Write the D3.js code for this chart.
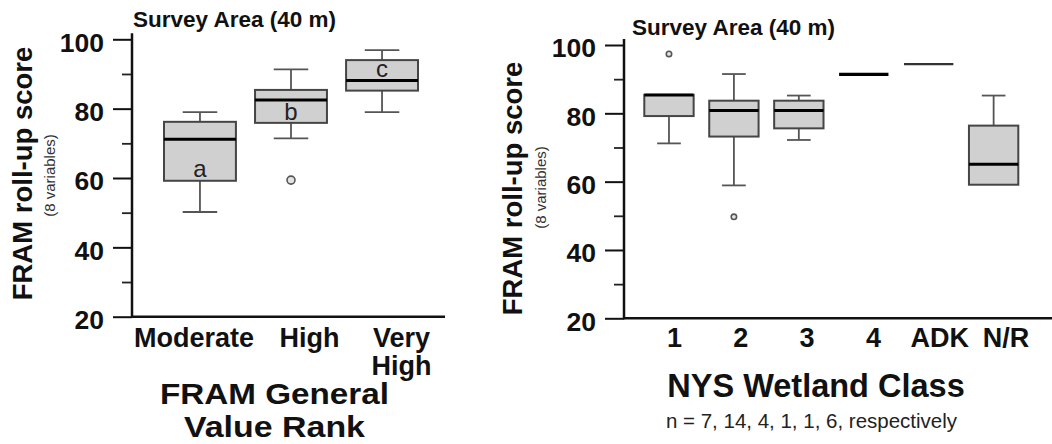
<!DOCTYPE html>
<html><head><meta charset="utf-8">
<script src="https://cdn.jsdelivr.net/npm/d3@7"></script>
<style>
html,body{margin:0;padding:0;background:#fff;}
svg{display:block;font-family:"Liberation Sans",Arial,Helvetica,sans-serif;}
</style></head><body>
<svg id="chart" width="1052" height="444"></svg>
<script>
// ---------- data ----------
const rankCategories = ["Moderate", "High", "Very High"];
const rankWhiskerLow = [50.2, 71.4, 79.0];
const rankQ1 = [59.2, 75.9, 85.2];
const rankMedian = [71.2, 82.5, 88.1];
const rankQ3 = [76.2, 85.4, 94.0];
const rankWhiskerHigh = [79.0, 91.3, 96.9];
const rankOutliers = [[], [59.4], []];
const rankLetters = ["a", "b", "c"];
const rankLetterValues = [60.3, 76.7, 89.1];

const classCategories = ["1", "2", "3", "4", "ADK", "N/R"];
const classWhiskerLow = [71.2, 58.9, 72.2, 91.4, 94.4, 59.1];
const classQ1 = [79.2, 73.2, 75.6, 91.4, 94.4, 59.1];
const classMedian = [85.4, 80.8, 80.8, 91.4, 94.4, 65.1];
const classQ3 = [85.4, 83.7, 83.7, 91.4, 94.4, 76.4];
const classWhiskerHigh = [85.4, 91.5, 85.2, 91.4, 94.4, 85.2];
const classOutliers = [[97.4], [49.7], [], [], [], []];
const classCounts = [7, 14, 4, 1, 1, 6];

const majorTicks = [20, 40, 60, 80, 100];
const minorTicks = [30, 50, 70, 90];
const panelTitle = "Survey Area (40 m)";
const yTitle = "FRAM roll-up score";
const ySubtitle = "(8 variables)";
const rankAxisTitle = ["FRAM General", "Value Rank"];
const classAxisTitle = "NYS Wetland Class";

// ---------- drawing ----------
const svg = d3.select("#chart");
const FONT = '"Liberation Sans", Arial, Helvetica, sans-serif';

function drawPanel(cfg) {
  const g = svg.append("g");
  const y = d3.scaleLinear().domain([20, 100]).range(cfg.yRange);
  const x = d3.scaleBand().domain(cfg.cats).range(cfg.xRange)
    .paddingInner(cfg.padIn).paddingOuter(0);
  const bw = x.bandwidth();
  const capW = bw * 0.48;
  const idx = d3.range(cfg.cats.length);
  const cx = i => x(cfg.cats[i]) + bw / 2;

  // title
  g.append("text").attr("x", cfg.titleX).attr("y", cfg.titleY)
    .attr("font-size", 22.5).attr("font-weight", "bold").attr("fill", "#111")
    .text(panelTitle);

  // y axis: major ticks
  const gy = g.append("g").attr("transform", `translate(${cfg.axisX},0)`)
    .call(d3.axisLeft(y).tickValues(majorTicks).tickSize(19).tickPadding(9)
      .tickSizeOuter(0).tickFormat(d3.format("d")));
  gy.select(".domain").remove();
  gy.selectAll(".tick line").attr("stroke", "#111").attr("stroke-width", 2);
  gy.selectAll(".tick text").attr("dy", "0.45em").attr("fill", "#111")
    .style("font-size", "26.5px").style("font-weight", "bold").style("font-family", FONT);
  // minor ticks
  const gm = g.append("g").attr("transform", `translate(${cfg.axisX},0)`)
    .call(d3.axisLeft(y).tickValues(minorTicks).tickSize(10).tickFormat(""));
  gm.select(".domain").remove();
  gm.selectAll(".tick line").attr("stroke", "#222").attr("stroke-width", 1.8);

  // axis lines
  g.append("line").attr("x1", cfg.axisX).attr("x2", cfg.axisX)
    .attr("y1", y(100) - 6).attr("y2", y(20) + 1)
    .attr("stroke", "#111").attr("stroke-width", 2.5);
  g.append("line").attr("x1", cfg.axisX).attr("x2", cfg.xEnd)
    .attr("y1", y(20)).attr("y2", y(20))
    .attr("stroke", "#111").attr("stroke-width", 2.5);

  // y titles
  g.append("text").attr("transform", `translate(${cfg.yTitleX},${cfg.yTitleCY}) rotate(-90)`)
    .attr("text-anchor", "middle").attr("font-size", 27.5).attr("font-weight", "bold")
    .attr("fill", "#111").text(yTitle);
  g.append("text").attr("transform", `translate(${cfg.ySubX},${cfg.ySubCY}) rotate(-90)`)
    .attr("text-anchor", "middle").attr("font-size", 15).attr("fill", "#333")
    .text(ySubtitle);

  const whiskerColor = "#555";
  // whiskers
  idx.forEach(i => {
    const segs = [];
    if (cfg.high[i] > cfg.q3[i]) segs.push([cfg.q3[i], cfg.high[i]]);
    if (cfg.low[i] < cfg.q1[i]) segs.push([cfg.q1[i], cfg.low[i]]);
    segs.forEach(([a, b]) => {
      g.append("line").attr("x1", cx(i)).attr("x2", cx(i))
        .attr("y1", y(a)).attr("y2", y(b))
        .attr("stroke", whiskerColor).attr("stroke-width", 1.8);
      g.append("line").attr("x1", cx(i) - capW / 2).attr("x2", cx(i) + capW / 2)
        .attr("y1", y(b)).attr("y2", y(b))
        .attr("stroke", whiskerColor).attr("stroke-width", 1.8);
    });
  });

  // boxes
  g.selectAll("rect.box").data(idx.filter(i => cfg.q3[i] > cfg.q1[i])).join("rect")
    .attr("class", "box")
    .attr("x", i => x(cfg.cats[i])).attr("width", bw)
    .attr("y", i => y(cfg.q3[i])).attr("height", i => y(cfg.q1[i]) - y(cfg.q3[i]))
    .attr("fill", "#d0d0d0").attr("stroke", "#454545").attr("stroke-width", 2);

  // medians
  g.selectAll("line.med").data(idx).join("line").attr("class", "med")
    .attr("x1", i => x(cfg.cats[i])).attr("x2", i => x(cfg.cats[i]) + bw)
    .attr("y1", i => y(cfg.median[i])).attr("y2", i => y(cfg.median[i]))
    .attr("stroke", i => cfg.medColor ? cfg.medColor[i] : "#000")
    .attr("stroke-width", i => cfg.medWidth ? cfg.medWidth[i] : 3);

  // outliers
  idx.forEach(i => {
    cfg.outliers[i].forEach(v => {
      g.append("circle").attr("cx", cx(i)).attr("cy", y(v)).attr("r", cfg.outR)
        .attr("fill", "#e4e4e4").attr("stroke", "#555").attr("stroke-width", 1.6);
    });
  });

  // letters
  if (cfg.letters) {
    idx.forEach(i => {
      g.append("text").attr("x", cx(i)).attr("y", y(cfg.letterValues[i]))
        .attr("text-anchor", "middle").attr("font-size", 24).attr("fill", "#222")
        .text(cfg.letters[i]);
    });
  }

  // category labels
  idx.forEach(i => {
    const t = g.append("text").attr("text-anchor", "middle")
      .attr("font-size", 27).attr("font-weight", "bold").attr("fill", "#111");
    const lx = cfg.labelX(x, bw, i);
    const lines = cfg.labelLines(cfg.cats[i]);
    lines.forEach((ln, k) => {
      t.append("tspan").attr("x", lx).attr("y", cfg.labelY + k * 27.5).text(ln);
    });
  });
  return g;
}

// left panel
const leftLabelDx = [-6, 18.5, 19.5];
const leftG = drawPanel({
  cats: rankCategories, low: rankWhiskerLow, q1: rankQ1, median: rankMedian,
  q3: rankQ3, high: rankWhiskerHigh, outliers: rankOutliers,
  letters: rankLetters, letterValues: rankLetterValues,
  yRange: [316.7, 39.3], xRange: [164, 418], padIn: 0.21,
  axisX: 132, xEnd: 445, titleX: 133, titleY: 26.5,
  yTitleX: 32, yTitleCY: 173.5, ySubX: 54.5, ySubCY: 175.5,
  outR: 4,
  labelY: 347,
  labelX: (x, bw, i) => x(rankCategories[i]) + bw / 2 + leftLabelDx[i],
  labelLines: c => c === "Very High" ? ["Very", "High"] : [c]
});
const rankTitleWidths = [229, 181];
rankAxisTitle.forEach((ln, k) => {
  leftG.append("text").attr("x", 274.5).attr("y", 404 + k * 33)
    .attr("text-anchor", "middle").attr("font-size", 29.5)
    .attr("font-weight", "bold").attr("fill", "#111")
    .attr("textLength", rankTitleWidths[k]).attr("lengthAdjust", "spacingAndGlyphs")
    .text(ln);
});

// right panel
const classLabelScale = d3.scalePoint().domain(classCategories).range([674.5, 1006]);
const rightG = drawPanel({
  cats: classCategories, low: classWhiskerLow, q1: classQ1, median: classMedian,
  q3: classQ3, high: classWhiskerHigh, outliers: classOutliers,
  yRange: [318.3, 45], xRange: [644.3, 1018.3], padIn: 0.24,
  axisX: 624, xEnd: 1052, titleX: 632, titleY: 35,
  yTitleX: 522, yTitleCY: 188.5, ySubX: 545.5, ySubCY: 187.5,
  outR: 2.7,
  medColor: ["#000", "#000", "#000", "#000", "#333", "#000"],
  medWidth: [3, 3, 3, 3.2, 2.2, 3],
  labelY: 347,
  labelX: (x, bw, i) => classLabelScale(classCategories[i]),
  labelLines: c => [c]
});
rightG.append("text").attr("x", 816).attr("y", 397).attr("text-anchor", "middle")
  .attr("font-size", 32.5).attr("font-weight", "bold").attr("fill", "#111")
  .text(classAxisTitle);
rightG.append("text").attr("x", 811.5).attr("y", 428).attr("text-anchor", "middle")
  .attr("font-size", 20.5).attr("fill", "#222")
  .text("n = " + classCounts.join(", ") + ", respectively");
</script>
</body></html>
